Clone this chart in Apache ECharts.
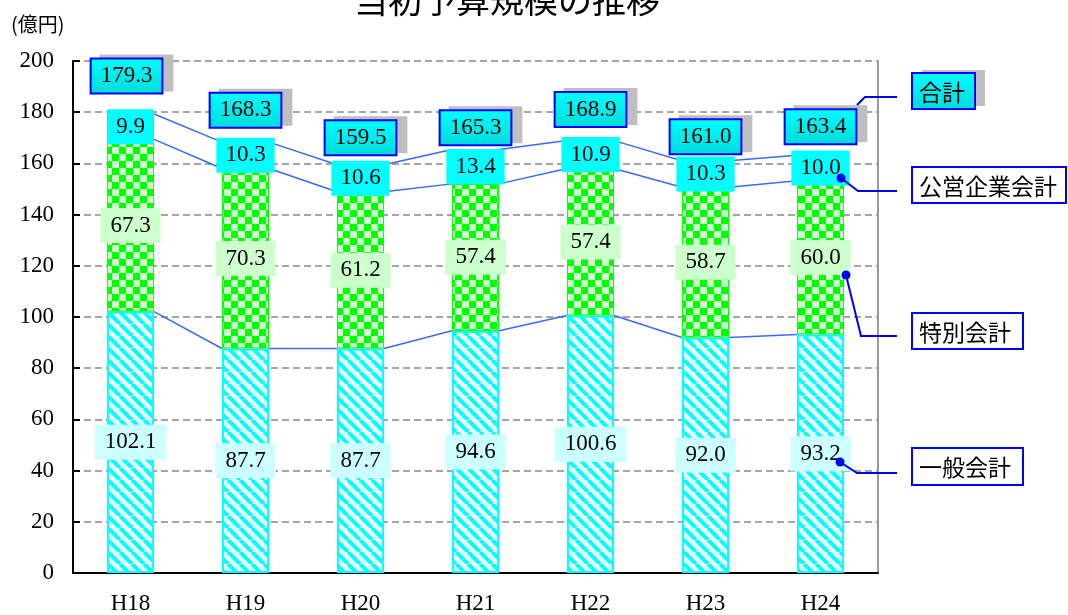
<!DOCTYPE html>
<html>
<head>
<meta charset="utf-8">
<script src="https://cdn.jsdelivr.net/npm/echarts@6/dist/echarts.min.js"></script>
<style>
  html, body { margin: 0; padding: 0; background: #fff; }
  #chart { width: 1068px; height: 615px; }
</style>
</head>
<body>
<div id="chart"></div>
<script>
// data (億円)
const years = ['H18', 'H19', 'H20', 'H21', 'H22', 'H23', 'H24']
const general = [102.1, 87.7, 87.7, 94.6, 100.6, 92.0, 93.2]
const special = [67.3, 70.3, 61.2, 57.4, 57.4, 58.7, 60.0]
const enterprise = [9.9, 10.3, 10.6, 13.4, 10.9, 10.3, 10.0]
const totals = [179.3, 168.3, 159.5, 165.3, 168.9, 161.0, 163.4]

// where the total boxes sit relative to the bar top (layout only)
const totalLabelOffset = [[-4, -38], [0, -32], [0, -27], [0, -22], [0, -31], [0, -24], [0, -28]]

const BAR_RATIO = 0.41
const serif = '"Liberation Serif", serif'
const jp = '"Noto Sans CJK JP", sans-serif'

function checker () {
  let c = document.createElement('canvas')
  c.width = c.height = 14
  let g = c.getContext('2d')
  g.fillStyle = '#CCFFCC'
  g.fillRect(0, 0, 14, 14)
  g.fillStyle = '#00FF00'
  g.fillRect(0, 0, 7, 7)
  g.fillRect(7, 7, 7, 7)
  return c
}

function stripes () {
  let w = 12
  let c = document.createElement('canvas')
  c.width = c.height = w
  let g = c.getContext('2d')
  g.fillStyle = '#E8FFFF'
  g.fillRect(0, 0, w, w)
  g.strokeStyle = '#00FFFF'
  g.lineWidth = 4
  for (let k of [-1, 0, 1]) {
    g.beginPath()
    g.moveTo(k * w, 0)
    g.lineTo(k * w + w, w)
    g.stroke()
  }
  return c
}

// series lines between the stacked levels
let level1 = general
let level2 = general.map((v, i) => v + special[i])
let level3 = level2.map((v, i) => v + enterprise[i])
let linkData = []
;[level1, level2, level3].forEach(lv => {
  for (let i = 0; i < lv.length - 1; i++) linkData.push([i, lv[i], lv[i + 1]])
})

function cyanGrad () {
  return new echarts.graphic.LinearGradient(0, 0, 0, 1, [
    {offset: 0, color: '#00FFFF'},
    {offset: 1, color: '#00DADA'}
  ])
}

let labelBase = {
  show: true,
  position: 'inside',
  fontFamily: serif,
  fontSize: 23,
  lineHeight: 23,
  color: '#000',
  padding: [6, 10],
  formatter: p => Number(p.value).toFixed(1)
}

let totalLabel = Object.assign({}, labelBase, {
  backgroundColor: cyanGrad(),
  borderColor: '#0000FF',
  borderWidth: 2,
  padding: [5, 9],
  formatter: p => Number(p.value[1]).toFixed(1)
})

let totalShadow = Object.assign({}, totalLabel, {
  color: 'rgba(0,0,0,0)',
  backgroundColor: '#BFBFBF',
  borderColor: '#BFBFBF'
})

let myChart = echarts.init(document.getElementById('chart'))

function callout (x, y, w, h, text, filled) {
  let els = []
  if (filled) {
    els.push({type: 'rect', shape: {x: x + 10, y: y - 3, width: w, height: h}, style: {fill: '#BFBFBF'}, z: 10})
  }
  els.push({
    type: 'rect',
    shape: {x: x, y: y, width: w, height: h},
    style: {fill: filled ? cyanGrad() : '#fff', stroke: '#0000FF', lineWidth: 2},
    z: 11
  })
  els.push({
    type: 'text', x: x + 7, y: y + h / 2 + 1, z: 12,
    style: {text: text, font: '23px ' + jp, fill: '#000', verticalAlign: 'middle'}
  })
  return els
}

function leader (pts, dot) {
  let els = [{type: 'polyline', shape: {points: pts}, style: {stroke: '#0000EE', lineWidth: 2, fill: null}, z: 20}]
  if (dot) els.push({type: 'circle', shape: {cx: pts[0][0], cy: pts[0][1], r: 4.5}, style: {fill: '#0000EE'}, z: 21})
  return els
}

let option = {
  animation: false,
  grid: {left: 73, right: 190, top: 61, bottom: 41},
  xAxis: {
    type: 'category',
    data: years,
    axisLine: {lineStyle: {color: '#000', width: 2}},
    axisTick: {inside: true, length: 6, lineStyle: {color: '#000', width: 2}},
    axisLabel: {fontFamily: serif, fontSize: 23, color: '#000', margin: 19}
  },
  yAxis: [{
    type: 'value',
    min: 0,
    max: 200,
    interval: 20,
    axisLine: {show: true, lineStyle: {color: '#000', width: 2}},
    axisTick: {show: true, inside: true, length: 7, lineStyle: {color: '#000', width: 2}},
    axisLabel: {fontFamily: serif, fontSize: 23, color: '#000', margin: 19, padding: [7, 0, 0, 0]},
    splitLine: {lineStyle: {color: '#888', width: 1.5, type: [7, 4]}}
  }, {
    type: 'value',
    position: 'right',
    min: 0,
    max: 200,
    axisLine: {show: true, lineStyle: {color: '#999', width: 2}},
    axisTick: {show: false},
    axisLabel: {show: false},
    splitLine: {show: false}
  }],
  series: [
    {
      type: 'custom',
      z: 1,
      data: linkData,
      renderItem: function (params, api) {
        let i = api.value(0)
        let a = api.coord([i, api.value(1)])
        let b = api.coord([i + 1, api.value(2)])
        let half = api.size([1, 0])[0] * BAR_RATIO / 2
        return {
          type: 'line',
          shape: {x1: a[0] + half, y1: a[1], x2: b[0] - half, y2: b[1]},
          style: {stroke: '#3A6BF0', lineWidth: 1.5}
        }
      }
    },
    {
      name: '一般会計',
      type: 'bar',
      stack: 'all',
      barWidth: (BAR_RATIO * 100) + '%',
      z: 2,
      itemStyle: {color: {image: stripes(), repeat: 'repeat'}, borderColor: '#00FFFF', borderWidth: 2},
      label: Object.assign({}, labelBase, {backgroundColor: '#CCFFFF'}),
      data: general
    },
    {
      name: '特別会計',
      type: 'bar',
      stack: 'all',
      z: 2,
      itemStyle: {color: {image: checker(), repeat: 'repeat'}, borderColor: '#00FF00', borderWidth: 1},
      label: Object.assign({}, labelBase, {backgroundColor: '#CCFFCC'}),
      data: special
    },
    {
      name: '公営企業会計',
      type: 'bar',
      stack: 'all',
      z: 2,
      itemStyle: {color: '#00FFFF', borderColor: '#5B8CFF', borderWidth: 1},
      label: Object.assign({}, labelBase, {backgroundColor: '#00FFFF', padding: [6, 9]}),
      data: enterprise
    },
    {
      name: '合計影',
      type: 'scatter',
      symbolSize: 0,
      z: 4,
      itemStyle: {opacity: 1},
      label: totalShadow,
      data: totals.map((v, i) => ({
        value: [years[i], v],
        label: {offset: [totalLabelOffset[i][0] + 10, totalLabelOffset[i][1] - 3]}
      }))
    },
    {
      name: '合計',
      type: 'scatter',
      symbolSize: 0,
      z: 5,
      itemStyle: {opacity: 1},
      label: totalLabel,
      data: totals.map((v, i) => ({value: [years[i], v], label: {offset: totalLabelOffset[i]}}))
    }
  ],
  graphic: [
    {type: 'text', x: 507, y: 0, style: {text: '当初予算規模の推移', font: '34px ' + jp, fill: '#000', align: 'center', verticalAlign: 'middle'}},
    {type: 'text', x: 11, y: 24, style: {text: '(億円)', font: '20px ' + jp, fill: '#000', verticalAlign: 'middle'}}
  ]
    .concat(callout(912, 73, 63, 36, '合計', true))
    .concat(callout(912, 167, 154, 36, '公営企業会計', false))
    .concat(callout(912, 313, 111, 36, '特別会計', false))
    .concat(callout(912, 448, 111, 37, '一般会計', false))
    .concat(leader([[857, 105], [865, 97], [897, 97]], false))
    .concat(leader([[841, 178], [858, 191], [897, 191]], true))
    .concat(leader([[846, 275], [861, 336], [897, 336]], true))
    .concat(leader([[840, 462], [857, 473], [897, 473]], true))
}

myChart.setOption(option)
</script>
</body>
</html>
